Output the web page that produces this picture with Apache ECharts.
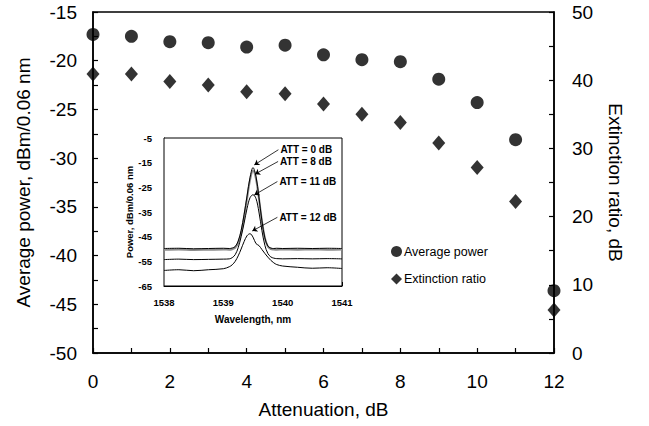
<!DOCTYPE html>
<html><head><meta charset="utf-8">
<script src="https://cdn.jsdelivr.net/npm/echarts@6/dist/echarts.min.js"></script>
<style>html,body{margin:0;padding:0;background:#fff}#c{width:649px;height:426px}</style>
</head><body><div id="c"></div>
<script>
// ---- main chart data ----
const attenuation = [0,1,2,3,4,5,6,7,8,9,10,11,12];
const avgPower = [-17.3,-17.5,-18.05,-18.15,-18.6,-18.4,-19.4,-19.9,-20.1,-21.9,-24.3,-28.1,-43.6];
const extRatio = [40.9,40.9,39.8,39.3,38.3,38.0,36.5,35.0,33.8,30.8,27.2,22.2,6.3];
const seriesNames = ['Average power','Extinction ratio'];

// ---- inset spectra data ----
const wavelength = [1538,1538.25,1538.5,1538.75,1539,1539.1,1539.15,1539.2,1539.25,1539.3,1539.35,1539.4,1539.45,1539.5,1539.55,1539.6,1539.65,1539.7,1539.75,1539.8,1539.85,1539.9,1540,1540.25,1540.5,1540.75,1541];
const att0  = [-49.8,-49.7,-49.9,-49.8,-49.7,-49.8,-49.6,-49.0,-46.8,-42.5,-36.0,-28.5,-21.0,-17.0,-20.5,-29.0,-38.5,-45.5,-48.8,-49.6,-49.8,-49.7,-49.8,-49.7,-49.8,-49.7,-49.8];
const att8  = [-50.3,-50.2,-50.4,-50.3,-50.2,-50.3,-50.1,-49.5,-47.5,-43.5,-37.0,-29.5,-22.0,-18.3,-21.5,-29.5,-38.5,-45.5,-49.0,-50.0,-50.2,-50.3,-50.2,-50.3,-50.2,-50.3,-50.2];
const att11 = [-54.3,-54.1,-54.3,-54.2,-54.1,-54.0,-53.5,-52.3,-49.5,-45.0,-39.5,-33.5,-29.2,-28.0,-29.5,-35.0,-42.5,-48.5,-51.8,-53.2,-53.7,-53.9,-54.0,-53.9,-54.0,-53.9,-54.0];
const att12 = [-58.7,-58.4,-58.8,-58.4,-58.0,-57.2,-56.4,-55.0,-52.8,-50.0,-47.0,-44.6,-43.8,-45.2,-47.8,-48.6,-50.2,-51.8,-53.3,-54.6,-55.6,-56.3,-56.9,-57.4,-57.8,-57.6,-57.9];
const attLabels = ['ATT = 0 dB','ATT = 8 dB','ATT = 11 dB','ATT = 12 dB'];

// callout geometry in inset data coordinates: [labelStart, pointedPeak]
const callouts = [
  [[1539.928,-9.76],[1539.522,-15.9]],
  [[1539.923,-14.52],[1539.534,-19.65]],
  [[1539.911,-22.66],[1539.522,-28.1]],
  [[1539.911,-37.15],[1539.488,-42.7]]
];

const FF = '"Liberation Sans", Arial, sans-serif';
const chart = echarts.init(document.getElementById('c'), null, {renderer:'svg'});

function pairs(xs, ys){ return xs.map((x,i)=>[x, ys[i]]); }

const spectra = [att0, att8, att11, att12];
const spectraStyle = [
  {color:'#000', width:1},
  {color:'#8c8c8c', width:2},
  {color:'#000', width:1},
  {color:'#000', width:1}
];

const insetSeries = spectra.map((s,i)=>({
  type:'line', xAxisIndex:1, yAxisIndex:2, silent:true,
  data: pairs(wavelength, s), showSymbol:false, symbol:'none',
  smooth:0.35, z: i===1?3:4,
  lineStyle:{color:spectraStyle[i].color, width:spectraStyle[i].width},
  markLine:{
    silent:true, symbol:['none','arrow'], symbolSize:5,
    lineStyle:{color:'#000', width:0.8, type:'solid'},
    label:{show:false},
    data:[[{coord:callouts[i][0]},{coord:callouts[i][1]}]]
  },
  markPoint:{
    silent:true, symbol:'circle', symbolSize:0,
    label:{show:true, position:'right', distance:2, formatter:attLabels[i],
      color:'#000', fontFamily:FF, fontWeight:'bold', fontSize:10},
    data:[{coord:callouts[i][0]}]
  }
}));

const option = {
  backgroundColor:'#fff',
  animation:false,
  textStyle:{fontFamily:FF, color:'#000'},
  legend:{
    orient:'vertical', left:386, top:240, itemWidth:11, itemHeight:11, itemGap:14.5,
    textStyle:{fontFamily:FF, fontSize:12.5, color:'#000', padding:[0,0,0,-3]},
    data:[{name:seriesNames[0], icon:'circle'},{name:seriesNames[1], icon:'diamond'}]
  },
  grid:[
    {left:93, top:12, width:461, height:341, show:true, borderColor:'#000', borderWidth:1.5, backgroundColor:'transparent'},
    {left:164, top:138, width:178, height:148, show:true, borderColor:'#000', borderWidth:1, backgroundColor:'#fff', z:1}
  ],
  xAxis:[
    {type:'value', gridIndex:0, min:0, max:12, interval:1,
      name:'Attenuation, dB', nameLocation:'middle', nameGap:47,
      nameTextStyle:{fontSize:19, fontFamily:FF, color:'#000'},
      axisLine:{lineStyle:{color:'#000', width:1.5}},
      axisTick:{inside:true, length:5, lineStyle:{color:'#000', width:1.2}},
      splitLine:{show:false},
      axisLabel:{fontSize:19, fontFamily:FF, color:'#000', margin:19,
        formatter:v=> (v%2===0 ? String(v) : '')}
    },
    {type:'value', gridIndex:1, min:1538, max:1541, interval:1,
      name:'Wavelength, nm', nameLocation:'middle', nameGap:28,
      nameTextStyle:{fontSize:10, fontWeight:'bold', fontFamily:FF, color:'#000'},
      axisLine:{lineStyle:{color:'#000', width:1}},
      axisTick:{inside:true, length:4, lineStyle:{color:'#000'}},
      splitLine:{show:false},
      axisLabel:{fontSize:9.5, fontWeight:'bold', fontFamily:FF, color:'#000', margin:11,
        formatter:v=>String(Math.round(v))}
    }
  ],
  yAxis:[
    {type:'value', gridIndex:0, min:-50, max:-15, interval:2.5,
      name:'Average power, dBm/0.06 nm', nameLocation:'middle', nameGap:60,
      nameTextStyle:{fontSize:19, fontFamily:FF, color:'#000'},
      axisLine:{show:true, lineStyle:{color:'#000', width:1.5}},
      axisTick:{inside:true, length:5, lineStyle:{color:'#000', width:1.2}},
      splitLine:{show:false},
      axisLabel:{fontSize:19, fontFamily:FF, color:'#000', margin:16,
        formatter:v=> (v%5===0 ? String(v) : '')}
    },
    {type:'value', gridIndex:0, position:'right', min:0, max:50, interval:5,
      name:'Extinction ratio, dB', nameLocation:'middle', nameGap:52, nameRotate:-90,
      nameTextStyle:{fontSize:19, fontFamily:FF, color:'#000'},
      axisLine:{show:true, lineStyle:{color:'#000', width:1.5}},
      axisTick:{inside:true, length:5, lineStyle:{color:'#000', width:1.2}},
      splitLine:{show:false},
      axisLabel:{fontSize:19, fontFamily:FF, color:'#000', margin:18,
        formatter:v=> (v%10===0 ? String(v) : '')}
    },
    {type:'value', gridIndex:1, min:-65, max:-5, interval:10,
      name:'Power, dBm/0.06 nm', nameLocation:'middle', nameGap:26,
      nameTextStyle:{fontSize:9.5, fontWeight:'bold', fontFamily:FF, color:'#000'},
      axisLine:{show:true, lineStyle:{color:'#000', width:1}},
      axisTick:{inside:true, length:4, lineStyle:{color:'#000'}},
      splitLine:{show:false},
      axisLabel:{fontSize:9.5, fontWeight:'bold', fontFamily:FF, color:'#000', margin:12}
    }
  ],
  series:[
    {name:seriesNames[0], type:'scatter', xAxisIndex:0, yAxisIndex:0, clip:false,
      symbol:'circle', symbolSize:13, itemStyle:{color:'#000'}, z:5,
      data:pairs(attenuation, avgPower)},
    {name:seriesNames[1], type:'scatter', xAxisIndex:0, yAxisIndex:1, clip:false,
      symbol:'diamond', symbolSize:[13,15], itemStyle:{color:'#000'}, z:5,
      data:pairs(attenuation, extRatio)},
    ...insetSeries
  ]
};
chart.setOption(option);
</script></body></html>
